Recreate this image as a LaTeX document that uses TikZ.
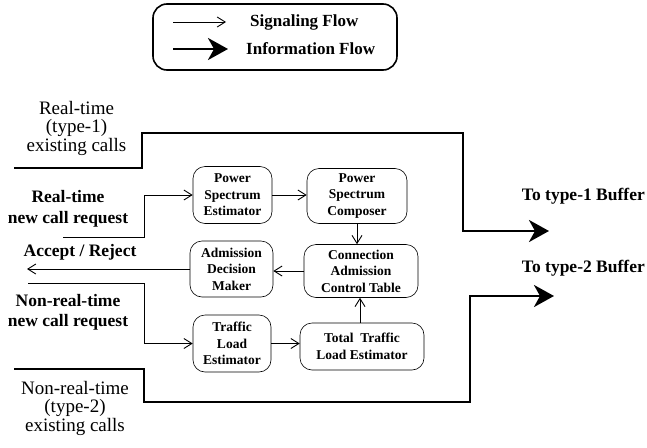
\documentclass[tikz,border=0pt]{standalone}
\usepackage{fontspec}
\setmainfont{Liberation Serif}
\usetikzlibrary{arrows.meta}
\tikzset{
  blk/.style={draw, rounded corners=12pt, line width=0.6pt, align=center,
    font=\bfseries\fontsize{13.5}{16.5}\selectfont, inner sep=1pt},
  sig/.style={line width=0.6pt, -{Straight Barb[length=8pt,width=10pt,line width=0.9pt]}},
  info/.style={line width=2.6pt, -{Stealth[length=20pt,width=22pt,inset=6pt]}},
  reg/.style={align=center, font=\fontsize{19}{18.5}\selectfont, inner sep=0pt},
  bld/.style={align=center, font=\bfseries\fontsize{17.5}{20.5}\selectfont, inner sep=0pt},
  leg/.style={anchor=west, font=\bfseries\fontsize{17}{20}\selectfont, inner sep=0pt}
}
\begin{document}
\begin{tikzpicture}[x=1pt,y=-1pt]
\useasboundingbox (0,0) rectangle (647,447);
% legend
\node[draw, rounded corners=14pt, line width=1.6pt, minimum width=244pt, minimum height=66pt] (legend) at (275,37) {};
\coordinate (ls1) at (173,22); \coordinate (le1) at (226,22);
\coordinate (ls2) at (173,49); \coordinate (le2) at (228,49);
\draw[sig] (ls1) -- (le1);
\draw[info] (ls2) -- (le2);
\node[leg] (lsig) at (250,22) {Signaling Flow};
\node[leg] (linf) at (246,49) {Information Flow};

% blocks
\node[blk, minimum width=79pt, minimum height=57pt] (pse) at (232.5,195) {Power\\Spectrum\\Estimator};
\node[blk, minimum width=100pt, minimum height=55pt] (psc) at (357,196) {Power\\Spectrum\\Composer};
\node[blk, minimum width=83pt, minimum height=56pt] (adm) at (231.5,269) {Admission\\Decision\\Maker};
\node[blk, minimum width=114pt, minimum height=53pt] (cact) at (361,271) {Connection\\Admission\\Control Table};
\node[blk, minimum width=78pt, minimum height=57pt] (tle) at (232,343.5) {Traffic\\Load\\Estimator};
\node[blk, minimum width=124pt, minimum height=47pt] (ttle) at (362,346.5) {Total\ \ Traffic\\Load Estimator};

\draw[sig] (pse.east) -- (pse.east -| psc.west);
\draw[sig] (psc.south) -- (psc.south |- cact.north);
\draw[sig] (cact.west) -- (cact.west -| adm.east);
\draw[sig] ([xshift=-2pt]ttle.north) -- ([xshift=-2pt]ttle.north |- cact.south);
\draw[sig] (tle.east) -- (tle.east -| ttle.west);

% left labels
\node[reg] (rtx) at (76.5,128) {Real-time\\(type-1)\\existing calls};
\node[bld] (rtr) at (68,209) {Real-time\\new call request};
\node[bld] (acc) at (80,252) {Accept / Reject};
\node[bld] (nrr) at (68,312.5) {Non-real-time\\new call request};
\node[reg] (nrx) at (75,408) {Non-real-time\\(type-2)\\existing calls};
\node[bld, anchor=east] (b1) at (645,196) {To type-1 Buffer};
\node[bld, anchor=east] (b2) at (645,268) {To type-2 Buffer};

% signaling lines
\coordinate (rq1) at (63,237); \coordinate (rq2) at (144,237);
\draw[sig] (rq1) -- (rq2) |- (pse.west);
\coordinate (ar) at (27,269);
\draw[sig] (adm.west) -- (ar);
\coordinate (nq1) at (28,283); \coordinate (nq2) at (144,283);
\draw[sig] (nq1) -- (nq2) |- (tle.west);

% information flow
\coordinate (a1) at (14,168); \coordinate (a2) at (142,168); \coordinate (a3) at (142,133);
\coordinate (a4) at (463,133); \coordinate (a5) at (463,231); \coordinate (a6) at (549,231);
\draw[info, line join=miter] (a1) -- (a2) -- (a3) -- (a4) -- (a5) -- (a6);
\coordinate (c1) at (14,369); \coordinate (c2) at (144,369); \coordinate (c3) at (144,402);
\coordinate (c4) at (470,402); \coordinate (c5) at (470,296); \coordinate (c6) at (554,296);
\draw[info, line join=miter] (c1) -- (c2) -- (c3) -- (c4) -- (c5) -- (c6);
\end{tikzpicture}
\end{document}
